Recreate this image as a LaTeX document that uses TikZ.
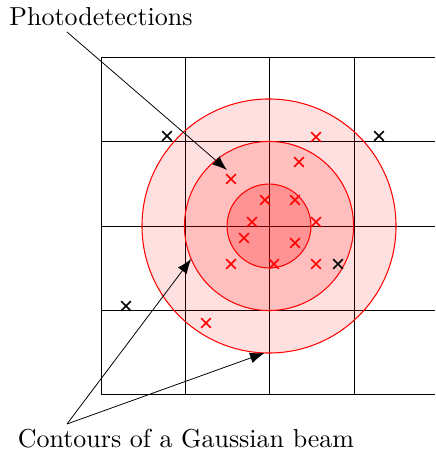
\documentclass[tikz,border=0pt]{standalone}
\usetikzlibrary{shapes.misc,arrows.meta}
\begin{document}
\begin{tikzpicture}[x=0.385pt,y=-0.385pt,
  gridline/.style={draw=black,line width=0.3pt},
  beam/.style={circle,draw=red,fill=red,inner sep=0pt,outer sep=0pt,line width=0.4pt},
  det/.style={cross out,draw=red,line width=0.6pt,minimum size=3.1pt,inner sep=0pt},
  miss/.style={cross out,draw=black,line width=0.6pt,minimum size=3.1pt,inner sep=0pt},
  lbl/.style={font=\normalsize,inner sep=0pt},
  pointer/.style={draw=black,line width=0.3pt,-{Latex[length=5.6pt,width=4.2pt]}}]
\useasboundingbox (0,0) rectangle (435,456);
% grid
\foreach \y in {57,141,226,310,394} \draw[gridline] (101,\y) -- (435,\y);
\foreach \x in {101,185,269,354} \draw[gridline] (\x,57) -- (\x,394);
% beam contours
\node[beam,fill opacity=0.12,minimum size=97.8pt] (outer) at (269,226) {};
\node[beam,fill opacity=0.15,minimum size=65.1pt] (middle) at (269,226) {};
\node[beam,fill opacity=0.235,minimum size=32.3pt] (inner) at (269,226) {};
% detections
\node[det] (d1) at (316,137) {};
\node[det] (d2) at (299,162) {};
\node[det] (d3) at (231,179) {};
\node[det] (d4) at (265,200) {};
\node[det] (d5) at (295,200) {};
\node[det] (d6) at (252,222) {};
\node[det] (d7) at (316,222) {};
\node[det] (d8) at (244,238) {};
\node[det] (d9) at (295,243) {};
\node[det] (d10) at (231,264) {};
\node[det] (d11) at (274,264) {};
\node[det] (d12) at (316,264) {};
\node[det] (d13) at (206,323) {};
\node[miss] (b1) at (167,136) {};
\node[miss] (b2) at (379,136) {};
\node[miss] (b3) at (338,264) {};
\node[miss] (b4) at (126,306) {};
% labels
\node[lbl] (photo) at (101,17) {Photodetections};
\node[lbl] (contours) at (186,439) {Contours of a Gaussian beam};
\coordinate (p0) at (67,32);
\coordinate (p1) at (227,170);
\coordinate (c0) at (67,424);
\draw[pointer] (p0) -- (p1);
\draw[pointer] (c0) -- (middle.203.6);
\draw[pointer] (c0) -- (outer.268.7);
\end{tikzpicture}
\end{document}
